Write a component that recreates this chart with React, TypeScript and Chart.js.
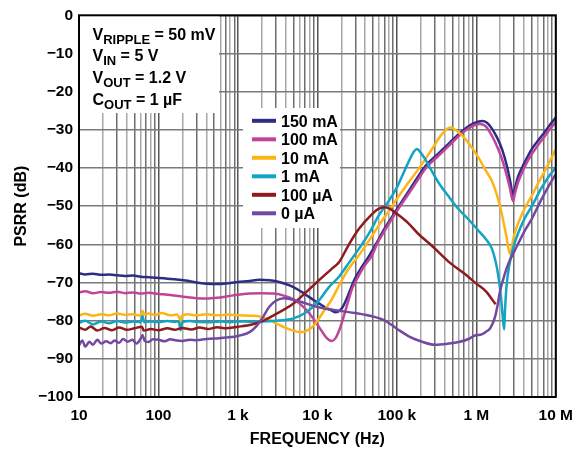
import React, { useEffect, useRef } from 'react';
import { Chart, registerables } from 'chart.js';

Chart.register(...registerables);

const FF = "'Liberation Sans', Arial, Helvetica, sans-serif";

// ---- data (frequency in Hz, PSRR in dB) ----
const freq150mA = [10,12,15,19,24,30,38,48,60,75,100,130,170,220,300,400,550,750,1000,1400,1850,2500,3200,4000,5000,6500,8000,10000,12500,15000,17000,19000,21000,23000,26000,30000,36000,44000,55000,70000,100000,150000,230000,330000,450000,650000,850000,1050000,1200000,1350000,1550000,1800000,2100000,2450000,2700000,2900000,3050000,3350000,4000000,4900000,6000000,7300000,8500000,10000000];
const psrr150mA = [-67.6,-67.9,-67.7,-68.0,-67.9,-68.1,-68.3,-68.2,-68.5,-68.6,-68.8,-69.0,-69.2,-69.5,-70.0,-70.3,-70.4,-70.2,-69.9,-69.6,-69.3,-69.4,-69.8,-70.4,-71.2,-72.6,-73.9,-75.2,-76.5,-77.3,-77.8,-77.4,-76.3,-74.6,-71.8,-68.8,-66.0,-63.3,-59.8,-55.9,-50.8,-45.2,-39.4,-36.3,-33.6,-30.5,-28.7,-27.9,-27.7,-28.1,-29.5,-31.8,-35.0,-39.8,-44.0,-47.3,-45.5,-42.3,-38.8,-35.3,-32.8,-30.5,-28.6,-26.8];

const freq100mA = [10,12,15,19,24,30,38,48,60,75,100,130,170,220,300,400,550,750,1000,1400,2000,2800,3600,4500,5500,6500,8000,10000,12000,13500,15200,17000,19000,21500,24500,27400,32000,38000,48700,56000,70000,86800,110000,140000,187000,232000,334000,450000,687000,900000,1100000,1300000,1500000,1750000,2050000,2350000,2650000,2900000,3050000,3350000,4000000,4900000,6000000,7300000,8500000,10000000];
const psrr100mA = [-72.6,-72.3,-72.8,-72.5,-72.7,-72.4,-72.8,-72.6,-72.9,-72.7,-73.0,-73.2,-73.5,-73.8,-74.1,-74.2,-74.0,-73.6,-73.2,-72.9,-72.8,-72.9,-73.3,-74.0,-75.0,-76.2,-78.2,-81.0,-83.5,-84.8,-85.3,-84.5,-82.3,-78.8,-74.8,-71.6,-68.8,-66.0,-62.9,-60.0,-56.5,-53.3,-50.0,-46.8,-42.9,-40.0,-36.8,-34.2,-30.6,-29.0,-28.5,-29.0,-30.8,-33.5,-37.0,-41.0,-45.3,-48.7,-46.8,-43.8,-40.0,-36.6,-34.0,-31.6,-29.7,-28.0];

const freq10mA = [10,12,15,19,24,30,38,48,60,63,66,75,90,110,140,170,184,190,196,230,300,400,550,750,1000,1500,2000,2600,3200,4000,5000,6000,7000,8500,10000,12500,15000,18700,24000,33200,45000,59000,78000,100000,140000,187000,276000,367000,468000,625000,800000,1060000,1300000,1560000,1800000,2050000,2400000,2640000,3000000,3360000,4080000,4930000,6000000,7260000,8500000,10000000];
const psrr10mA = [-78.6,-78.2,-78.7,-78.3,-78.6,-78.1,-78.5,-78.3,-78.7,-77.4,-78.4,-78.1,-78.5,-78.0,-78.6,-78.4,-79.4,-80.4,-78.8,-78.3,-78.6,-78.3,-78.6,-78.4,-78.6,-78.7,-79.0,-80.0,-81.0,-81.9,-82.6,-83.0,-82.8,-81.8,-80.0,-77.0,-74.6,-70.8,-66.8,-62.9,-58.9,-55.1,-51.5,-48.1,-43.8,-40.3,-35.1,-31.2,-29.4,-31.0,-33.5,-37.2,-40.5,-43.3,-46.8,-51.2,-58.1,-62.5,-57.5,-54.5,-50.5,-47.5,-44.0,-40.8,-38.0,-35.1];

const freq1mA = [10,12,15,19,24,30,38,48,60,63,66,80,100,130,160,180,190,200,250,300,450,600,800,1000,1500,2000,3000,4000,5000,7000,10000,14000,18700,25000,33200,45000,59000,80000,100000,139000,165000,180000,198000,227000,270000,334000,450000,600000,800000,1060000,1300000,1560000,1750000,1900000,2050000,2150000,2240000,2300000,2400000,2600000,3000000,4000000,5000000,6500000,8000000,10000000];
const psrr1mA = [-80.6,-80.0,-81.0,-80.2,-80.7,-80.1,-80.5,-80.2,-80.4,-78.8,-80.4,-80.2,-80.4,-80.1,-80.3,-80.2,-82.5,-80.4,-80.1,-80.3,-80.4,-80.2,-80.4,-80.2,-80.3,-80.2,-80.0,-79.8,-79.4,-78.0,-75.2,-71.2,-68.5,-64.8,-61.2,-57.0,-52.5,-48.5,-45.1,-38.6,-35.6,-35.0,-35.9,-37.7,-40.5,-43.8,-47.5,-50.8,-53.5,-56.4,-58.5,-61.0,-64.5,-68.5,-74.0,-79.0,-82.3,-77.0,-71.0,-65.5,-60.0,-53.5,-50.0,-45.5,-42.5,-39.9];

const freq100uA = [10,12,14,17,21,26,32,40,50,62,65,80,100,130,160,200,260,330,420,550,700,1000,1500,2000,3000,5000,7000,10000,15000,18700,25000,33200,48700,58000,68400,82000,100000,140000,187000,280000,450000,700000,1000000,1350000,1500000,1750000];
const psrr100uA = [-81.8,-82.4,-81.5,-82.6,-81.9,-82.5,-81.8,-82.4,-82.0,-81.6,-82.6,-82.2,-82.5,-82.0,-82.4,-81.9,-82.3,-81.8,-82.2,-81.7,-82.0,-81.6,-81.0,-80.2,-78.3,-75.5,-72.8,-69.8,-66.5,-64.7,-60.0,-56.0,-52.1,-50.8,-50.3,-50.7,-52.0,-54.5,-57.3,-60.5,-64.6,-67.6,-70.3,-72.5,-73.8,-75.7];

const freq0uA = [10,11,12,13.5,15,17,19,22,25,28,32,36,41,47,53,60,63,67,75,85,100,120,140,170,200,250,300,400,500,700,900,1100,1400,1700,2000,2500,3000,3800,4500,6000,8000,10000,15000,20000,30000,50000,70000,100000,150000,200000,300000,450000,600000,800000,960000,1170000,1350000,1480000,1600000,1720000,1850000,1980000,2290000,2600000,3050000,4080000,5000000,6500000,8000000,10000000];
const psrr0uA = [-86.5,-85.2,-86.8,-85.5,-86.3,-85.0,-86.0,-85.4,-85.9,-85.2,-85.8,-84.8,-85.5,-85.0,-86.0,-84.6,-83.8,-85.3,-85.6,-84.9,-85.0,-85.4,-84.9,-85.2,-85.3,-85.0,-85.1,-84.8,-84.7,-84.4,-84.2,-83.8,-83.0,-81.5,-79.5,-76.3,-74.8,-74.1,-74.3,-75.0,-75.8,-76.4,-77.1,-77.5,-78.0,-78.9,-79.9,-82.1,-84.4,-85.4,-86.3,-86.0,-85.6,-84.8,-83.9,-83.6,-82.8,-82.1,-80.8,-79.0,-76.0,-72.5,-67.7,-64.5,-61.6,-56.4,-53.3,-48.5,-45.0,-41.6];

const seriesLabels = ['150 mA', '100 mA', '10 mA', '1 mA', '100 µA', '0 µA'];
const seriesColors = ['#2d2e83', '#c1449b', '#fdb515', '#12a4c4', '#8e1c1f', '#7248a1'];
const seriesFreqs = [freq150mA, freq100mA, freq10mA, freq1mA, freq100uA, freq0uA];
const seriesValues = [psrr150mA, psrr100mA, psrr10mA, psrr1mA, psrr100uA, psrr0uA];

const xDecades = [10, 100, 1000, 10000, 100000, 1000000, 10000000];
const xDecadeLabels = ['10', '100', '1 k', '10 k', '100 k', '1 M', '10 M'];
const yTickValues = [-100, -90, -80, -70, -60, -50, -40, -30, -20, -10, 0];

const conditionLines = [
  ['V', 'RIPPLE', ' = 50 mV'],
  ['V', 'IN', ' = 5 V'],
  ['V', 'OUT', ' = 1.2 V'],
  ['C', 'OUT', ' = 1 µF'],
];

function xGridTicks() {
  const t: { value: number }[] = [];
  for (let e = 1; e < 7; e++) {
    for (let k = 1; k < 10; k++) t.push({ value: k * Math.pow(10, e) });
  }
  t.push({ value: 1e7 });
  return t;
}

function significand(v: number) {
  const e = Math.floor(Math.log10(v) + 1e-9);
  return Math.round(v / Math.pow(10, e));
}

const boxesPlugin = {
  id: 'boxes',
  beforeDatasetsDraw(chart: any) {
    const ctx = chart.ctx;
    ctx.save();
    ctx.fillStyle = '#ffffff';
    ctx.fillRect(80, 15, 139, 98);
    ctx.fillRect(243, 108, 97, 120);
    ctx.fillStyle = '#000000';
    ctx.textBaseline = 'alphabetic';
    ctx.textAlign = 'left';
    const baselines = [39.5, 61, 83, 104.5];
    conditionLines.forEach((ln, i) => {
      let x = 92.5;
      const y = baselines[i];
      ctx.font = `bold 16px ${FF}`;
      ctx.fillText(ln[0], x, y);
      x += ctx.measureText(ln[0]).width;
      ctx.font = `bold 13px ${FF}`;
      ctx.fillText(ln[1], x, y + 4);
      x += ctx.measureText(ln[1]).width;
      ctx.font = `bold 16px ${FF}`;
      ctx.fillText(ln[2], x, y);
    });
    seriesLabels.forEach((lab, i) => {
      const cy = 120.8 + 18.5 * i;
      ctx.strokeStyle = seriesColors[i];
      ctx.lineWidth = 4;
      ctx.lineCap = 'butt';
      ctx.beginPath();
      ctx.moveTo(252, cy);
      ctx.lineTo(276, cy);
      ctx.stroke();
      ctx.fillStyle = '#000000';
      ctx.font = `bold 16px ${FF}`;
      ctx.fillText(lab, 281, cy + 5.7);
    });
    ctx.restore();
  },
  afterDatasetsDraw(chart: any) {
    const { ctx, chartArea } = chart;
    ctx.save();
    ctx.strokeStyle = '#000000';
    ctx.lineWidth = 2;
    ctx.strokeRect(chartArea.left, chartArea.top, chartArea.right - chartArea.left, chartArea.bottom - chartArea.top);
    ctx.restore();
  },
};

export default function App() {
  const ref = useRef<HTMLCanvasElement | null>(null);
  useEffect(() => {
    if (!ref.current) return;
    const datasets = seriesLabels.map((label, i) => ({
      label,
      data: seriesFreqs[i].map((f, j) => ({ x: f, y: seriesValues[i][j] })),
      borderColor: seriesColors[i],
      backgroundColor: seriesColors[i],
      borderWidth: 2.5,
      pointRadius: 0,
      cubicInterpolationMode: 'monotone' as const,
      fill: false,
      order: 6 - i,
    }));
    const chart = new Chart(ref.current, {
      type: 'line',
      data: { datasets },
      plugins: [boxesPlugin],
      options: {
        animation: false,
        responsive: false,
        devicePixelRatio: 1,
        layout: { padding: { top: 14, right: 24, left: 0, bottom: 0 } },
        plugins: { legend: { display: false }, tooltip: { enabled: false } },
        scales: {
          x: {
            type: 'logarithmic',
            min: 10,
            max: 1e7,
            afterBuildTicks: (s: any) => { s.ticks = xGridTicks(); },
            afterFit: (s: any) => { s.height = 52; },
            border: { display: false },
            grid: {
              drawTicks: false,
              lineWidth: 1.5,
              color: (c: any) => {
                const v = c.tick && c.tick.value;
                if (!v) return '#888888';
                const k = significand(v);
                if (k === 1) return '#555555';
                return k % 2 === 1 ? '#6e6e6e' : '#a8a8a8';
              },
            },
            ticks: {
              autoSkip: false,
              maxRotation: 0,
              minRotation: 0,
              padding: 9,
              color: '#000000',
              font: { family: FF, size: 15.5, weight: 'bold' },
              callback: (v: any) => {
                const idx = xDecades.findIndex((d) => Math.abs(d - Number(v)) < 1e-6 * d);
                return idx >= 0 ? xDecadeLabels[idx] : '';
              },
            },
            title: {
              display: true,
              text: 'FREQUENCY (Hz)',
              color: '#000000',
              font: { family: FF, size: 16, weight: 'bold' },
              padding: { top: 0, bottom: 0 },
            },
          },
          y: {
            type: 'linear',
            min: -100,
            max: 0,
            afterBuildTicks: (s: any) => { s.ticks = yTickValues.map((v) => ({ value: v })); },
            afterFit: (s: any) => { s.width = 79; },
            border: { display: false },
            grid: { drawTicks: false, lineWidth: 1.5, color: '#7a7a7a' },
            ticks: {
              padding: 6,
              color: '#000000',
              font: { family: FF, size: 15.5, weight: 'bold' },
              callback: (v: any) => (Number(v) === 0 ? '0' : '\u2212' + Math.abs(Number(v))),
            },
            title: {
              display: true,
              text: 'PSRR (dB)',
              color: '#000000',
              font: { family: FF, size: 16, weight: 'bold' },
              padding: { top: 12, bottom: 0 },
            },
          },
        },
      },
    } as any);
    return () => chart.destroy();
  }, []);
  return (
    <div style={{ position: 'absolute', left: 0, top: 0, width: 582, height: 449, background: '#fff' }}>
      <canvas ref={ref} width={582} height={449} style={{ display: 'block', width: 582, height: 449 }} />
    </div>
  );
}
